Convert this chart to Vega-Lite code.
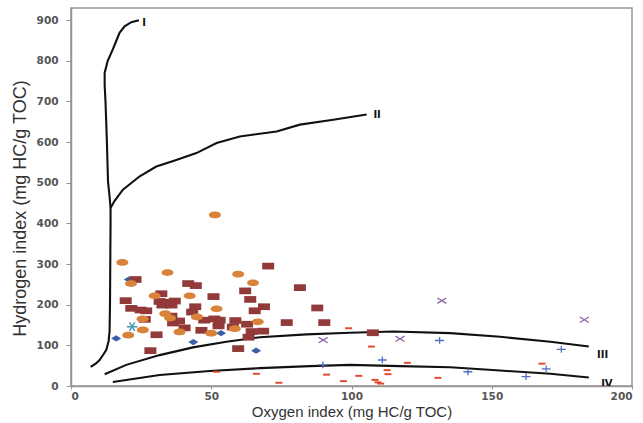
{
  "$schema": "https://vega.github.io/schema/vega-lite/v6.json",
  "width": 561,
  "height": 378,
  "autosize": {"type": "none"},
  "padding": {"left": 71, "top": 8, "right": 11, "bottom": 37},
  "background": "white",
  "config": {
    "view": {"stroke": "#9a9393", "strokeWidth": 1.5},
    "axis": {
      "grid": false,
      "domainColor": "#9a9393",
      "domainWidth": 1.5,
      "tickColor": "#9a9393",
      "labelFont": "DejaVu Sans",
      "labelFontWeight": "bold",
      "labelFontSize": 10.5,
      "labelColor": "#555555",
      "titleFont": "Liberation Sans",
      "titleFontWeight": "normal",
      "titleColor": "#333333"
    }
  },
  "datasets": {
    "curves": [
      {"curve": "I", "i": 1, "x": 7, "y": 47},
      {"curve": "I", "i": 2, "x": 8.8, "y": 55},
      {"curve": "I", "i": 3, "x": 10.2, "y": 64},
      {"curve": "I", "i": 4, "x": 11.6, "y": 78},
      {"curve": "I", "i": 5, "x": 12.6, "y": 89},
      {"curve": "I", "i": 6, "x": 13.4, "y": 110},
      {"curve": "I", "i": 7, "x": 13.75, "y": 135},
      {"curve": "I", "i": 8, "x": 13.9, "y": 200},
      {"curve": "I", "i": 9, "x": 14, "y": 300},
      {"curve": "I", "i": 10, "x": 14.1, "y": 400},
      {"curve": "I", "i": 11, "x": 14.1, "y": 438},
      {"curve": "I", "i": 12, "x": 13.7, "y": 470},
      {"curve": "I", "i": 13, "x": 13.2, "y": 502},
      {"curve": "I", "i": 14, "x": 13, "y": 550},
      {"curve": "I", "i": 15, "x": 12.8, "y": 600},
      {"curve": "I", "i": 16, "x": 12.5, "y": 660},
      {"curve": "I", "i": 17, "x": 12.3, "y": 700},
      {"curve": "I", "i": 18, "x": 12, "y": 740},
      {"curve": "I", "i": 19, "x": 12, "y": 771},
      {"curve": "I", "i": 20, "x": 13.1, "y": 800},
      {"curve": "I", "i": 21, "x": 14.9, "y": 828},
      {"curve": "I", "i": 22, "x": 16.2, "y": 850},
      {"curve": "I", "i": 23, "x": 17.3, "y": 869},
      {"curve": "I", "i": 24, "x": 19.1, "y": 885},
      {"curve": "I", "i": 25, "x": 21.5, "y": 895},
      {"curve": "I", "i": 26, "x": 24.2, "y": 900},
      {"curve": "II", "i": 1, "x": 14.1, "y": 438},
      {"curve": "II", "i": 2, "x": 15.5, "y": 455},
      {"curve": "II", "i": 3, "x": 18.5, "y": 483},
      {"curve": "II", "i": 4, "x": 24.5, "y": 516},
      {"curve": "II", "i": 5, "x": 30.4, "y": 540},
      {"curve": "II", "i": 6, "x": 37, "y": 555},
      {"curve": "II", "i": 7, "x": 44.7, "y": 573},
      {"curve": "II", "i": 8, "x": 51.9, "y": 598},
      {"curve": "II", "i": 9, "x": 60.2, "y": 614},
      {"curve": "II", "i": 10, "x": 73.3, "y": 626},
      {"curve": "II", "i": 11, "x": 81.6, "y": 643},
      {"curve": "II", "i": 12, "x": 93.5, "y": 655},
      {"curve": "II", "i": 13, "x": 105.4, "y": 668},
      {"curve": "III", "i": 1, "x": 12, "y": 29},
      {"curve": "III", "i": 2, "x": 19.7, "y": 52},
      {"curve": "III", "i": 3, "x": 31.6, "y": 76},
      {"curve": "III", "i": 4, "x": 43.5, "y": 95},
      {"curve": "III", "i": 5, "x": 55.4, "y": 109},
      {"curve": "III", "i": 6, "x": 67.3, "y": 120},
      {"curve": "III", "i": 7, "x": 84, "y": 127},
      {"curve": "III", "i": 8, "x": 99.5, "y": 131},
      {"curve": "III", "i": 9, "x": 114.9, "y": 134},
      {"curve": "III", "i": 10, "x": 135.2, "y": 130},
      {"curve": "III", "i": 11, "x": 153, "y": 121},
      {"curve": "III", "i": 12, "x": 170.9, "y": 109},
      {"curve": "III", "i": 13, "x": 184.6, "y": 97},
      {"curve": "IV", "i": 1, "x": 14.9, "y": 10},
      {"curve": "IV", "i": 2, "x": 31.6, "y": 27},
      {"curve": "IV", "i": 3, "x": 49.5, "y": 37},
      {"curve": "IV", "i": 4, "x": 67.3, "y": 44},
      {"curve": "IV", "i": 5, "x": 85.2, "y": 49},
      {"curve": "IV", "i": 6, "x": 99.5, "y": 52},
      {"curve": "IV", "i": 7, "x": 117.3, "y": 49},
      {"curve": "IV", "i": 8, "x": 135.2, "y": 46},
      {"curve": "IV", "i": 9, "x": 153, "y": 38},
      {"curve": "IV", "i": 10, "x": 170.9, "y": 30},
      {"curve": "IV", "i": 11, "x": 184.6, "y": 21}
    ],
    "samples": [
      {"series": "diamond", "x": 16.1, "y": 117},
      {"series": "diamond", "x": 20.6, "y": 262},
      {"series": "diamond", "x": 43.6, "y": 108},
      {"series": "diamond", "x": 53.5, "y": 130},
      {"series": "diamond", "x": 66, "y": 87},
      {"series": "rect", "x": 23, "y": 262},
      {"series": "rect", "x": 19.5, "y": 210},
      {"series": "rect", "x": 21.5, "y": 191},
      {"series": "rect", "x": 24.8, "y": 187},
      {"series": "rect", "x": 26.8, "y": 185},
      {"series": "rect", "x": 26.3, "y": 164},
      {"series": "rect", "x": 30.5, "y": 126},
      {"series": "rect", "x": 28.3, "y": 87},
      {"series": "rect", "x": 32.2, "y": 227},
      {"series": "rect", "x": 31.6, "y": 208},
      {"series": "rect", "x": 35.2, "y": 206},
      {"series": "rect", "x": 37, "y": 209},
      {"series": "rect", "x": 32.6, "y": 199},
      {"series": "rect", "x": 35.8, "y": 199},
      {"series": "rect", "x": 35.8, "y": 172},
      {"series": "rect", "x": 36.4, "y": 155},
      {"series": "rect", "x": 38.5, "y": 160},
      {"series": "rect", "x": 40.5, "y": 143},
      {"series": "rect", "x": 41.8, "y": 252},
      {"series": "rect", "x": 44.5, "y": 247},
      {"series": "rect", "x": 44.3, "y": 195},
      {"series": "rect", "x": 43.2, "y": 182},
      {"series": "rect", "x": 47.5, "y": 162},
      {"series": "rect", "x": 46.5, "y": 137},
      {"series": "rect", "x": 51.1, "y": 165},
      {"series": "rect", "x": 53, "y": 162},
      {"series": "rect", "x": 52.6, "y": 148},
      {"series": "rect", "x": 50.8, "y": 220},
      {"series": "rect", "x": 58.6, "y": 161},
      {"series": "rect", "x": 57.7, "y": 145},
      {"series": "rect", "x": 59.6, "y": 92},
      {"series": "rect", "x": 62.1, "y": 234},
      {"series": "rect", "x": 63.9, "y": 213},
      {"series": "rect", "x": 65.5, "y": 185},
      {"series": "rect", "x": 68.8, "y": 195},
      {"series": "rect", "x": 70.3, "y": 295},
      {"series": "rect", "x": 62.8, "y": 152},
      {"series": "rect", "x": 64.4, "y": 134},
      {"series": "rect", "x": 63.3, "y": 120},
      {"series": "rect", "x": 68.5, "y": 135},
      {"series": "rect", "x": 76.9, "y": 156},
      {"series": "rect", "x": 81.6, "y": 242},
      {"series": "rect", "x": 87.8, "y": 192},
      {"series": "rect", "x": 90.3, "y": 156},
      {"series": "rect", "x": 107.6, "y": 131},
      {"series": "oval", "x": 18.3, "y": 304},
      {"series": "oval", "x": 21.4, "y": 252},
      {"series": "oval", "x": 20.4, "y": 125},
      {"series": "oval", "x": 25.5, "y": 165},
      {"series": "oval", "x": 25.6, "y": 138},
      {"series": "oval", "x": 29.8, "y": 222},
      {"series": "oval", "x": 33.6, "y": 178},
      {"series": "oval", "x": 34.4, "y": 279},
      {"series": "oval", "x": 35.3, "y": 167},
      {"series": "oval", "x": 38.7, "y": 133},
      {"series": "oval", "x": 42.3, "y": 222},
      {"series": "oval", "x": 44.9, "y": 170},
      {"series": "oval", "x": 50, "y": 130},
      {"series": "oval", "x": 51.3, "y": 421},
      {"series": "oval", "x": 51.9, "y": 190},
      {"series": "oval", "x": 58.4, "y": 141},
      {"series": "oval", "x": 59.6, "y": 275},
      {"series": "oval", "x": 64.9, "y": 254},
      {"series": "oval", "x": 66.6, "y": 158},
      {"series": "star", "x": 21.8, "y": 146},
      {"series": "xmark", "x": 132.2, "y": 210},
      {"series": "xmark", "x": 183, "y": 163},
      {"series": "xmark", "x": 89.9, "y": 113},
      {"series": "xmark", "x": 117.3, "y": 116},
      {"series": "plus", "x": 131.4, "y": 112},
      {"series": "plus", "x": 174.8, "y": 90},
      {"series": "plus", "x": 89.8, "y": 52},
      {"series": "plus", "x": 111, "y": 64},
      {"series": "plus", "x": 141.5, "y": 35},
      {"series": "plus", "x": 169.4, "y": 42},
      {"series": "plus", "x": 162.2, "y": 23},
      {"series": "dash", "x": 99, "y": 142},
      {"series": "dash", "x": 107.1, "y": 97},
      {"series": "dash", "x": 119.9, "y": 57},
      {"series": "dash", "x": 112.7, "y": 39},
      {"series": "dash", "x": 113, "y": 29},
      {"series": "dash", "x": 91.1, "y": 28},
      {"series": "dash", "x": 97.1, "y": 12},
      {"series": "dash", "x": 102.6, "y": 25},
      {"series": "dash", "x": 108.4, "y": 15},
      {"series": "dash", "x": 109.4, "y": 9},
      {"series": "dash", "x": 110.4, "y": 6},
      {"series": "dash", "x": 130.8, "y": 20},
      {"series": "dash", "x": 167.9, "y": 55},
      {"series": "dash", "x": 51.9, "y": 35},
      {"series": "dash", "x": 66.1, "y": 30},
      {"series": "dash", "x": 74.1, "y": 8}
    ],
    "labels": [
      {"text": "I", "x": 25.4, "y": 894},
      {"text": "II", "x": 107.8, "y": 667},
      {"text": "III", "x": 187.5, "y": 76},
      {"text": "IV", "x": 189, "y": 4}
    ]
  },
  "encoding": {
    "x": {
      "field": "x",
      "type": "quantitative",
      "scale": {"domain": [0, 200], "nice": false, "zero": false},
      "axis": {
        "title": "Oxygen index (mg HC/g TOC)",
        "values": [0, 50, 100, 150, 200],
        "tickSize": 3,
        "labelPadding": 2,
        "titleFontSize": 15,
        "titlePadding": 3
      }
    },
    "y": {
      "field": "y",
      "type": "quantitative",
      "scale": {"domain": [0, 930], "nice": false, "zero": false},
      "axis": {
        "title": "Hydrogen index (mg HC/g TOC)",
        "values": [0, 100, 200, 300, 400, 500, 600, 700, 800, 900],
        "tickSize": 5,
        "labelPadding": 8,
        "titleFontSize": 18,
        "titlePadding": 7,
        "titleY": 200
      }
    }
  },
  "layer": [
    {
      "data": {"name": "curves"},
      "mark": {"type": "line", "color": "#111111", "strokeWidth": 2.1, "interpolate": "linear"},
      "encoding": {
        "detail": {"field": "curve", "type": "nominal"},
        "order": {"field": "i", "type": "quantitative"}
      }
    },
    {
      "data": {"name": "samples"},
      "transform": [{"filter": "datum.series === 'diamond'"}],
      "mark": {"type": "point", "filled": true, "opacity": 1, "color": "#3c5ea6", "size": 100,
               "shape": "M-1,0L0,-0.62L1,0L0,0.62Z"}
    },
    {
      "data": {"name": "samples"},
      "transform": [{"filter": "datum.series === 'rect'"}],
      "mark": {"type": "point", "filled": true, "opacity": 1, "color": "#923a3a", "size": 144,
               "shape": "M-1,-0.56L1,-0.56L1,0.56L-1,0.56Z"}
    },
    {
      "data": {"name": "samples"},
      "transform": [{"filter": "datum.series === 'oval'"}],
      "mark": {"type": "point", "filled": true, "opacity": 1, "color": "#d9833a", "size": 144,
               "shape": "M-1,0A1,0.56,0,1,1,1,0A1,0.56,0,1,1,-1,0Z"}
    },
    {
      "data": {"name": "samples"},
      "transform": [{"filter": "datum.series === 'star'"}],
      "mark": {"type": "point", "filled": false, "opacity": 1, "color": "#4a97b5", "size": 110, "strokeWidth": 1.5,
               "shape": "M-1,0L1,0M-0.5,-0.8L0.5,0.8M-0.5,0.8L0.5,-0.8"}
    },
    {
      "data": {"name": "samples"},
      "transform": [{"filter": "datum.series === 'xmark'"}],
      "mark": {"type": "point", "filled": false, "opacity": 1, "color": "#8a64a4", "size": 81, "strokeWidth": 1.3,
               "shape": "M-1,-0.6L1,0.6M-1,0.6L1,-0.6"}
    },
    {
      "data": {"name": "samples"},
      "transform": [{"filter": "datum.series === 'plus'"}],
      "mark": {"type": "point", "filled": false, "opacity": 1, "color": "#4f6fc0", "size": 81, "strokeWidth": 1.3,
               "shape": "M-1,0L1,0M0,-0.75L0,0.75"}
    },
    {
      "data": {"name": "samples"},
      "transform": [{"filter": "datum.series === 'dash'"}],
      "mark": {"type": "point", "filled": true, "opacity": 1, "color": "#e04a30", "size": 49,
               "shape": "M-1,-0.28L1,-0.28L1,0.28L-1,0.28Z"}
    },
    {
      "data": {"name": "labels"},
      "mark": {"type": "text", "align": "left", "baseline": "middle", "font": "DejaVu Sans",
               "fontWeight": "bold", "fontSize": 10, "color": "#111111", "clip": true},
      "encoding": {"text": {"field": "text", "type": "nominal"}}
    }
  ]
}
